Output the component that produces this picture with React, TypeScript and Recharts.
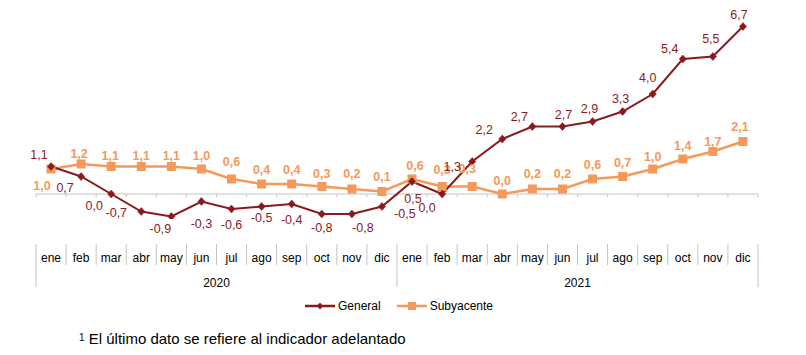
import React from 'react';
import { LineChart, Line, XAxis, YAxis, ReferenceLine, Legend, LabelList } from 'recharts';

const months = ['ene', 'feb', 'mar', 'abr', 'may', 'jun', 'jul', 'ago', 'sep', 'oct', 'nov', 'dic'];
const years = ['2020', '2021'];
const general = [1.1, 0.7, 0.0, -0.7, -0.9, -0.3, -0.6, -0.5, -0.4, -0.8, -0.8, -0.5, 0.5, 0.0, 1.3, 2.2, 2.7, 2.7, 2.9, 3.3, 4.0, 5.4, 5.5, 6.7];
const subyacente = [1.0, 1.2, 1.1, 1.1, 1.1, 1.0, 0.6, 0.4, 0.4, 0.3, 0.2, 0.1, 0.6, 0.3, 0.3, 0.0, 0.2, 0.2, 0.6, 0.7, 1.0, 1.4, 1.7, 2.1];

// label placement (dx, dy from the point), layout only
const generalLabelOffsets = [
  [-12, -12], [-16, 11], [-17, 12], [-25, 1], [-11, 12], [0, 22], [0, 16], [0, 11], [0, 16], [0, 14], [11, 14], [23, 7],
  [1, 17], [-15, 14], [-20, 5], [-18, -9], [-13, -10], [1, -12], [-3, -13], [-2, -13], [-5, -16], [-13, -10], [-2, -18], [-4, -12],
];
const subLabelOffsets = [
  [-9, 17], [-2, -10], [-1, -11], [0, -11], [0, -11], [0, -13], [0, -17], [0, -14], [0, -14], [0, -13], [0, -15], [0, -15],
  [3, -13], [0, -17], [-5, -18], [0, -13], [0, -15], [0, -15], [0, -14], [0, -14], [0, -12], [0, -13], [0, -10], [-3, -15],
];

const data = years.flatMap((yr, yi) =>
  months.map((m, mi) => ({
    key: `${m}-${yr}`,
    month: m,
    year: yr,
    general: general[yi * 12 + mi],
    subyacente: subyacente[yi * 12 + mi],
  }))
);

const RED = '#8B1A1D';
const ORANGE = '#F5995A';
const GRID = '#C4C4C4';
const FONT = '"Liberation Sans", Arial, sans-serif';

const fmt = (v: number) => v.toFixed(1).replace('.', ',');

const DiamondDot = (props: any) => {
  const { cx, cy, index } = props;
  if (cx == null || cy == null) return <g key={`d-${index}`} />;
  return (
    <path
      key={`d-${index}`}
      d={`M${cx},${cy - 4} L${cx + 3.6},${cy} L${cx},${cy + 4} L${cx - 3.6},${cy} Z`}
      fill={RED}
      stroke={RED}
      strokeWidth={0.5}
    />
  );
};

const SquareDot = (props: any) => {
  const { cx, cy, index } = props;
  if (cx == null || cy == null) return <g key={`s-${index}`} />;
  return <rect key={`s-${index}`} x={cx - 4.5} y={cy - 4.5} width={9} height={9} fill={ORANGE} />;
};

const makeLabel = (offsets: number[][], color: string, weight: string) => (props: any) => {
  const vb = props.viewBox || {};
  const x = vb.x ?? props.x;
  const y = vb.y ?? props.y;
  const idx = props.index ?? 0;
  if (x == null || y == null || props.value == null) return null;
  const [dx, dy] = offsets[idx] || [0, -12];
  return (
    <text
      key={`l-${color}-${idx}`}
      x={x + dx}
      y={y + dy}
      textAnchor="middle"
      dominantBaseline="central"
      fill={color}
      fontSize={12.5}
      fontWeight={weight}
      fontFamily={FONT}
    >
      {fmt(Number(props.value))}
    </text>
  );
};

const MonthTick = (props: any) => {
  const { x, y, payload } = props;
  const index = payload.index ?? 0;
  const off = payload.offset || 15.04;
  const left = x - off;
  const right = x + off;
  const isYearStart = index % 12 === 0;
  return (
    <g>
      <line x1={left} y1={y + 25} x2={left} y2={isYearStart ? y + 68 : y + 46} stroke={GRID} strokeWidth={1} />
      {index === data.length - 1 && (
        <line x1={right} y1={y + 25} x2={right} y2={y + 68} stroke={GRID} strokeWidth={1} />
      )}
      <text x={x} y={y + 39} textAnchor="middle" dominantBaseline="central" fontSize={12} fontFamily={FONT} fill="#000">
        {data[index]?.month}
      </text>
      {index % 12 === 5 && (
        <text x={right} y={y + 64} textAnchor="middle" dominantBaseline="central" fontSize={12} fontFamily={FONT} fill="#000">
          {data[index]?.year}
        </text>
      )}
    </g>
  );
};

const ZeroAxis = (props: any) => {
  const { x1, y1, x2 } = props;
  if (x1 == null) return <g />;
  const n = data.length;
  const w = (x2 - x1) / n;
  const ticks = [];
  for (let i = 0; i <= n; i++) {
    const tx = x1 + i * w;
    ticks.push(<line key={i} x1={tx} y1={y1} x2={tx} y2={y1 + 3} stroke={GRID} strokeWidth={1} />);
  }
  return (
    <g>
      <line x1={x1} y1={y1} x2={x2} y2={y1} stroke={GRID} strokeWidth={1.2} />
      {ticks}
    </g>
  );
};

const LegendContent = () => (
  <div
    style={{
      display: 'flex',
      justifyContent: 'center',
      alignItems: 'center',
      height: 16,
      fontFamily: FONT,
      fontSize: 12,
      color: '#000',
      paddingRight: 8,
    }}
  >
    <svg width={30} height={10} style={{ display: 'block' }}>
      <line x1={0} y1={5} x2={30} y2={5} stroke={RED} strokeWidth={2.5} />
      <path d="M15,1.5 L18.2,5 L15,8.5 L11.8,5 Z" fill={RED} />
    </svg>
    <span style={{ marginLeft: 3 }}>General</span>
    <svg width={30} height={10} style={{ display: 'block', marginLeft: 16 }}>
      <line x1={0} y1={5} x2={30} y2={5} stroke={ORANGE} strokeWidth={2.5} />
      <rect x={11} y={1} width={8} height={8} fill={ORANGE} />
    </svg>
    <span style={{ marginLeft: 3 }}>Subyacente</span>
  </div>
);

export default function App() {
  return (
    <div style={{ position: 'absolute', left: 0, top: 0, width: 806, height: 355, background: '#fff' }}>
      <LineChart width={806} height={355} data={data} margin={{ top: 19, right: 48, left: 36, bottom: 30 }}>
        <YAxis hide type="number" domain={[-1, 7]} allowDataOverflow />
        <XAxis
          dataKey="key"
          scale="band"
          interval={0}
          height={90}
          axisLine={false}
          tickLine={false}
          tickSize={0}
          tickMargin={0}
          tick={<MonthTick />}
        />
        <ReferenceLine y={0} shape={<ZeroAxis />} ifOverflow="extendDomain" />
        <Line
          type="linear"
          dataKey="subyacente"
          stroke={ORANGE}
          strokeWidth={2.5}
          dot={<SquareDot />}
          activeDot={false}
          isAnimationActive={false}
        >
          <LabelList dataKey="subyacente" content={makeLabel(subLabelOffsets, ORANGE, 'bold')} />
        </Line>
        <Line
          type="linear"
          dataKey="general"
          stroke={RED}
          strokeWidth={2}
          dot={<DiamondDot />}
          activeDot={false}
          isAnimationActive={false}
        >
          <LabelList dataKey="general" content={makeLabel(generalLabelOffsets, RED, 'normal')} />
        </Line>
        <Legend content={<LegendContent />} wrapperStyle={{ top: 298, left: 0, width: 806, height: 16 }} />
      </LineChart>
      <div
        style={{
          position: 'absolute',
          left: 79,
          top: 330,
          fontFamily: FONT,
          fontSize: 15,
          lineHeight: '18px',
          color: '#000',
          whiteSpace: 'nowrap',
        }}
      >
        <span style={{ fontSize: 10, verticalAlign: 'top', position: 'relative', top: -1 }}>1</span> El último dato se refiere al indicador adelantado
      </div>
    </div>
  );
}
